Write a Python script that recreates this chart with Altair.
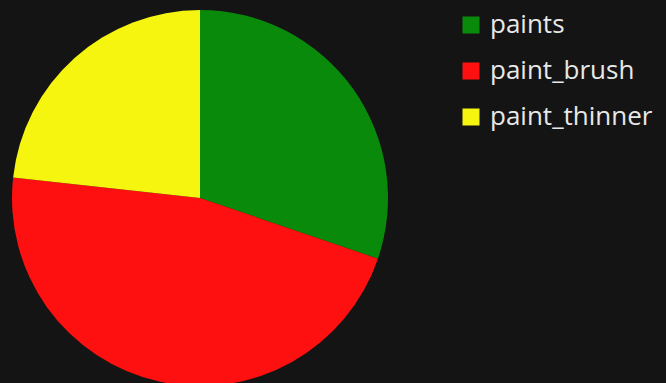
import altair as alt
import pandas as pd

items = ["paints", "paint_brush", "paint_thinner"]
values = [1300, 2000, 1000]
colors = ["#0a8a0a", "#ff1010", "#f5f510"]

df = pd.DataFrame({"item": items, "value": values, "idx": list(range(len(items)))})

chart = alt.Chart(df).mark_arc(radius=188, stroke=None).encode(
    theta=alt.Theta("value:Q", stack=True),
    order=alt.Order("idx:Q"),
    x=alt.value(200),
    y=alt.value(198),
    color=alt.Color(
        "item:N",
        scale=alt.Scale(domain=items, range=colors),
        legend=alt.Legend(
            title=None,
            orient="none",
            legendX=458,
            legendY=12,
            symbolType="square",
            symbolSize=289,
            symbolStrokeWidth=0,
            labelFontSize=26,
            labelFont="Open Sans",
            labelColor="#e8e8e8",
            labelOffset=6,
            labelLimit=400,
            rowPadding=20,
            padding=0,
        ),
    ),
).properties(
    width=666,
    height=383,
    background="#141414",
    autosize=alt.AutoSizeParams(type="none"),
    padding=0,
).configure_view(stroke=None)

chart.save("out.html", embed_options={"renderer": "svg", "actions": False})
